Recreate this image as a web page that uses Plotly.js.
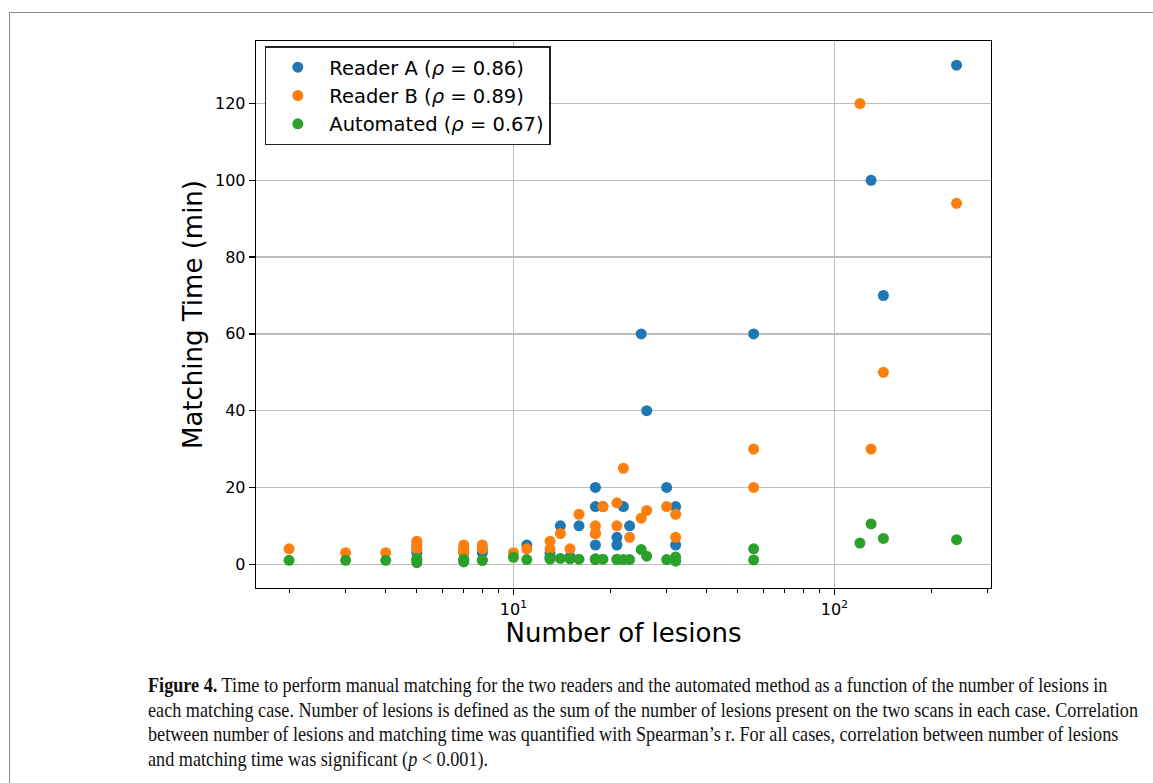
<!DOCTYPE html>
<html>
<head>
<meta charset="utf-8">
<script src="https://cdn.plot.ly/plotly-3.0.1.min.js"></script>
<style>
  html, body { margin:0; padding:0; background:#fff; width:1153px; height:783px; overflow:hidden; }
  #frame { position:absolute; left:9px; top:12px; width:1300px; height:900px; border:1.3px solid #8c8c8c; z-index:0; }
  #chart { position:absolute; left:0; top:0; width:1153px; height:783px; z-index:1; }
  .cap { position:absolute; left:148px; white-space:nowrap; font-family:"Liberation Serif","DejaVu Serif",serif;
         font-size:21px; line-height:24px; height:24px; color:#111; transform-origin:0 0; z-index:2; }
</style>
</head>
<body>
<div id="frame"></div>
<div id="chart"></div>
<div class="cap" id="c1" style="font-size:21px"><b>Figure 4.</b> Time to perform manual matching for the two readers and the automated method as a function of the number of lesions in</div>
<div class="cap" id="c2" style="font-size:21px">each matching case. Number of lesions is defined as the sum of the number of lesions present on the two scans in each case. Correlation</div>
<div class="cap" id="c3" style="font-size:21px">between number of lesions and matching time was quantified with Spearman’s r. For all cases, correlation between number of lesions</div>
<div class="cap" id="c4" style="font-size:21px">and matching time was significant (<i>p</i> &lt; 0.001).</div>
<script>
// Number of lesions per case
const lesions = [2, 3, 4, 5, 5, 5, 7, 7, 7, 8, 8, 10, 11, 13, 13, 14, 15, 16, 18, 18, 18, 19, 21, 21, 22, 23, 25, 26, 30, 32, 32, 56, 56, 120, 130, 142, 240];
// Matching time (min); null = point not visible in the reference (hidden under another marker)
const readerA = [null, null, null, 5, 4, 3, 4, null, 3, 3, 4, null, 5, 3, 2, 10, 2, 10, 20, 15, 5, 15, 7, 5, 15, 10, 60, 40, 20, 15, 5, 60, null, null, 100, 70, 130];
const readerB = [4, 3, 3, 6, 5, 4, 5, 4, 3, 5, 4, 3, 4, 6, 4, 8, 4, 13, 10, 8, 8, 15, 16, 10, 25, 7, 12, 14, 15, 13, 7, 30, 20, 120, 30, 50, 94];
const automated = [1, 1, 1, 1.5, 0.4, 1, 1.3, 0.6, 1, 1, 1, 1.8, 1.2, 1.3, 1.7, 1.5, 1.4, 1.3, 1.3, 1.2, 1.4, 1.3, 1.3, 1.2, 1.2, 1.2, 3.8, 2.1, 1.2, 1.9, 0.8, 4, 1.1, 5.5, 10.5, 6.7, 6.4];

const seriesNames = ['Reader A (<i>ρ</i> = 0.86)', 'Reader B (<i>ρ</i> = 0.89)', 'Automated (<i>ρ</i> = 0.67)'];
const seriesColors = ['#1f77b4', '#ff7f0e', '#2ca02c'];
const xTickVals = [10, 100];
const xTickText = ['10<sup>1</sup>', '10<sup>2</sup>'];
const xMinorVals = [2, 3, 4, 5, 6, 7, 8, 9, 20, 30, 40, 50, 60, 70, 80, 90, 200, 300];
const yTickVals = [0, 20, 40, 60, 80, 100, 120];

const ys = [readerA, readerB, automated];
const traces = ys.map((y, i) => ({
  type: 'scatter', mode: 'markers', x: lesions, y: y, name: seriesNames[i],
  marker: { color: seriesColors[i], size: 11, line: { width: 0 } }
}));

const font = 'DejaVu Sans, sans-serif';
const layout = {
  width: 1153, height: 783,
  margin: { l: 256, r: 162, t: 41, b: 195, pad: 0 },
  paper_bgcolor: 'rgba(0,0,0,0)', plot_bgcolor: '#fff',
  showlegend: true,
  font: { family: font, color: '#000' },
  xaxis: {
    type: 'log', range: [0.198, 2.4875], autorange: false,
    tickmode: 'array', tickvals: xTickVals, ticktext: xTickText,
    ticks: 'outside', ticklen: 6, tickwidth: 1.3, tickcolor: '#000',
    tickfont: { family: font, size: 16, color: '#000' },
    showgrid: true, gridcolor: '#bdbdbd', gridwidth: 1.4,
    showline: true, linecolor: '#000', linewidth: 1.3, mirror: true,
    zeroline: false,
    minor: { tickmode: 'array', tickvals: xMinorVals, ticks: 'outside', ticklen: 3.5, tickwidth: 1, tickcolor: '#000', showgrid: false },
    title: { text: 'Number of lesions', font: { family: font, size: 26, color: '#000' }, standoff: 6 }
  },
  yaxis: {
    range: [-6.2, 136.3], autorange: false,
    tickmode: 'array', tickvals: yTickVals,
    ticks: 'outside', ticklen: 6, tickwidth: 1.3, tickcolor: '#000',
    tickfont: { family: font, size: 16, color: '#000' },
    showgrid: true, gridcolor: '#bdbdbd', gridwidth: 1.4,
    showline: true, linecolor: '#000', linewidth: 1.3, mirror: true,
    zeroline: false,
    title: { text: 'Matching Time (min)', font: { family: font, size: 26, color: '#000' }, standoff: 5 }
  },
  legend: {
    x: 0.012, y: 0.99, xanchor: 'left', yanchor: 'top',
    bgcolor: '#fff', bordercolor: '#222', borderwidth: 1.5,
    font: { family: font, size: 19.5, color: '#000' },
    itemwidth: 53, tracegroupgap: 0
  }
};

Plotly.newPlot('chart', traces, layout, { staticPlot: true, displayModeBar: false });

// caption layout: baselines and horizontal condensing
const baselines = [692, 716.5, 741, 765.5];
const ids = ['c1', 'c2', 'c3', 'c4'];
const w2 = document.getElementById('c2').getBoundingClientRect().width;
const s = 990 / w2;
ids.forEach((id, i) => {
  const el = document.getElementById(id);
  el.style.top = (baselines[i] - 19) + 'px';
  el.style.transform = 'scaleX(' + s + ')';
});
</script>
</body>
</html>
